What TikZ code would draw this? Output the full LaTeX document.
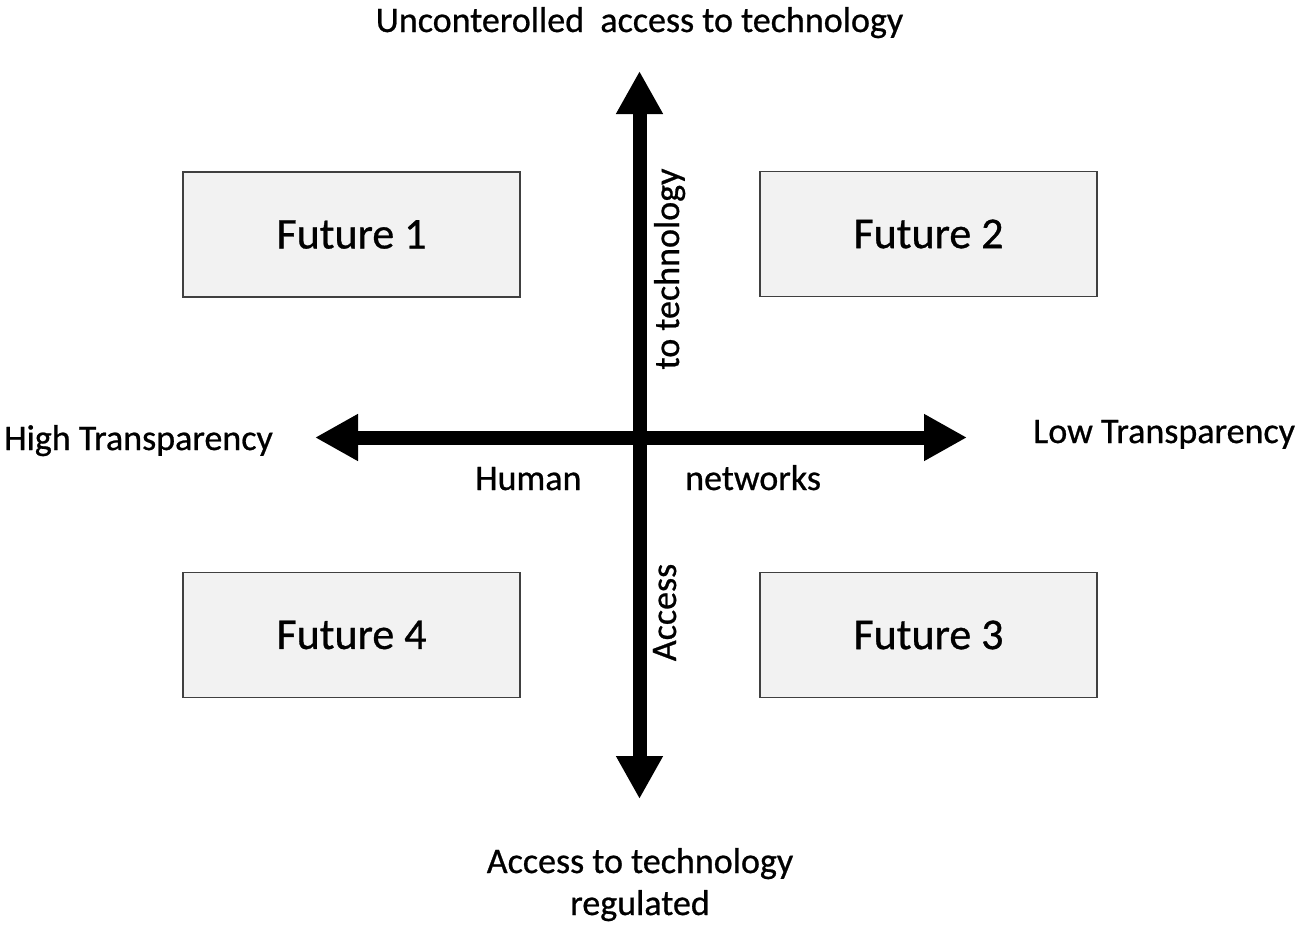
\documentclass[tikz,border=0pt]{standalone}
\usepackage{fontspec}
\setmainfont{Carlito}
\newfontfamily\heavyfont{Carlito}[FakeBold=0.7]
\usetikzlibrary{arrows.meta}
\definecolor{boxfill}{HTML}{F2F2F2}
\definecolor{boxline}{HTML}{404040}
\tikzset{
  future/.style={draw=boxline, fill=boxfill, line width=1.3pt, minimum width=337pt, minimum height=125pt, inner sep=0pt, font=\heavyfont\fontsize{44}{53}\selectfont},
  lbl/.style={inner sep=0pt, font=\heavyfont\fontsize{36}{43}\selectfont},
  axis/.style={line width=14pt, {Triangle[width=44pt,length=43pt]}-{Triangle[width=44pt,length=43pt]}}
}
\begin{document}
\begin{tikzpicture}[x=1pt,y=-1pt]
\useasboundingbox (0,0) rectangle (1301,926);
\coordinate (N) at (639.5,71);
\coordinate (S) at (639.5,799);
\coordinate (W) at (315,437.5);
\coordinate (E) at (967,437.5);
\draw[axis] (W) -- (E);
\draw[axis] (N) -- (S);
\node[future] (f1) at (351.5,234.5) {Future 1};
\node[future] (f2) at (928.5,234) {Future 2};
\node[future] (f4) at (351.5,635) {Future 4};
\node[future] (f3) at (928.5,635) {Future 3};
\node[lbl, anchor=base] (top) at (639.5,32) {Unconterolled\ \ access to technology};
\node[lbl, anchor=base west] (hi) at (4,450) {High Transparency};
\node[lbl, anchor=base west] (lo) at (1033,443) {Low Transparency};
\node[lbl, anchor=base west] (hum) at (475,490) {Human};
\node[lbl, anchor=base west] (net) at (685,490) {networks};
\node[lbl, anchor=base, rotate=90] (tt) at (679,269) {to technology};
\node[lbl, anchor=base, rotate=90] (acc) at (676,612.5) {Access};
\node[lbl, anchor=base] (b1) at (640,873) {Access to technology};
\node[lbl, anchor=base] (b2) at (640,915) {regulated};
\end{tikzpicture}
\end{document}
